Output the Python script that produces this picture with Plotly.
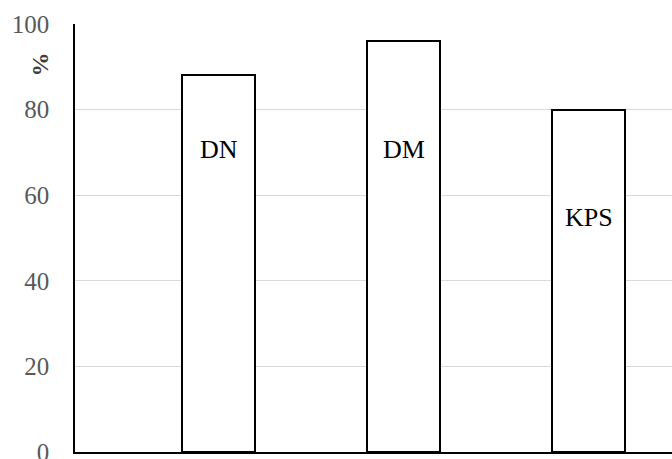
import plotly.graph_objects as go

# Share of each group (percent)
categories = ["DN", "DM", "KPS"]
values = [88, 96, 80]
# Height (in %) at which each group's name sits inside its bar
label_heights = [70.6, 70.6, 54.8]
y_ticks = [0, 20, 40, 60, 80, 100]

positions = list(range(len(categories)))

fig = go.Figure()
fig.add_trace(go.Bar(
    x=positions,
    y=values,
    width=0.395,
    marker=dict(color="white", line=dict(color="black", width=2)),
    showlegend=False,
    hoverinfo="skip",
))

for pos, name, h in zip(positions, categories, label_heights):
    fig.add_annotation(
        x=pos, y=h, text=name, showarrow=False,
        font=dict(family="Liberation Serif", size=26, color="black"),
    )

fig.add_annotation(
    xref="paper", yref="y", x=-0.059, y=90.5, text="<b>%</b>",
    textangle=-90, showarrow=False, xanchor="center",
    font=dict(family="Liberation Serif", size=24, color="#404040"),
)

fig.update_layout(
    width=672, height=459,
    margin=dict(l=75, r=0, t=24, b=7, autoexpand=False),
    paper_bgcolor="white", plot_bgcolor="white",
    bargap=0,
)
fig.update_xaxes(
    range=[-0.776, 2.449], showticklabels=False, showgrid=False,
    zeroline=False, showline=True, linecolor="black", linewidth=1.5,
    ticks="", automargin=False,
)
fig.update_yaxes(
    range=[0, 100], tickvals=y_ticks, showgrid=True, gridcolor="#d9d9d9",
    gridwidth=1.2, zeroline=False, showline=True, linecolor="black",
    linewidth=1.5, ticks="", ticklabelstandoff=19,
    ticklabeloverflow="allow", automargin=False,
    tickfont=dict(family="Liberation Serif", size=25, color="#595959"),
)

fig.write_html("out.html")
